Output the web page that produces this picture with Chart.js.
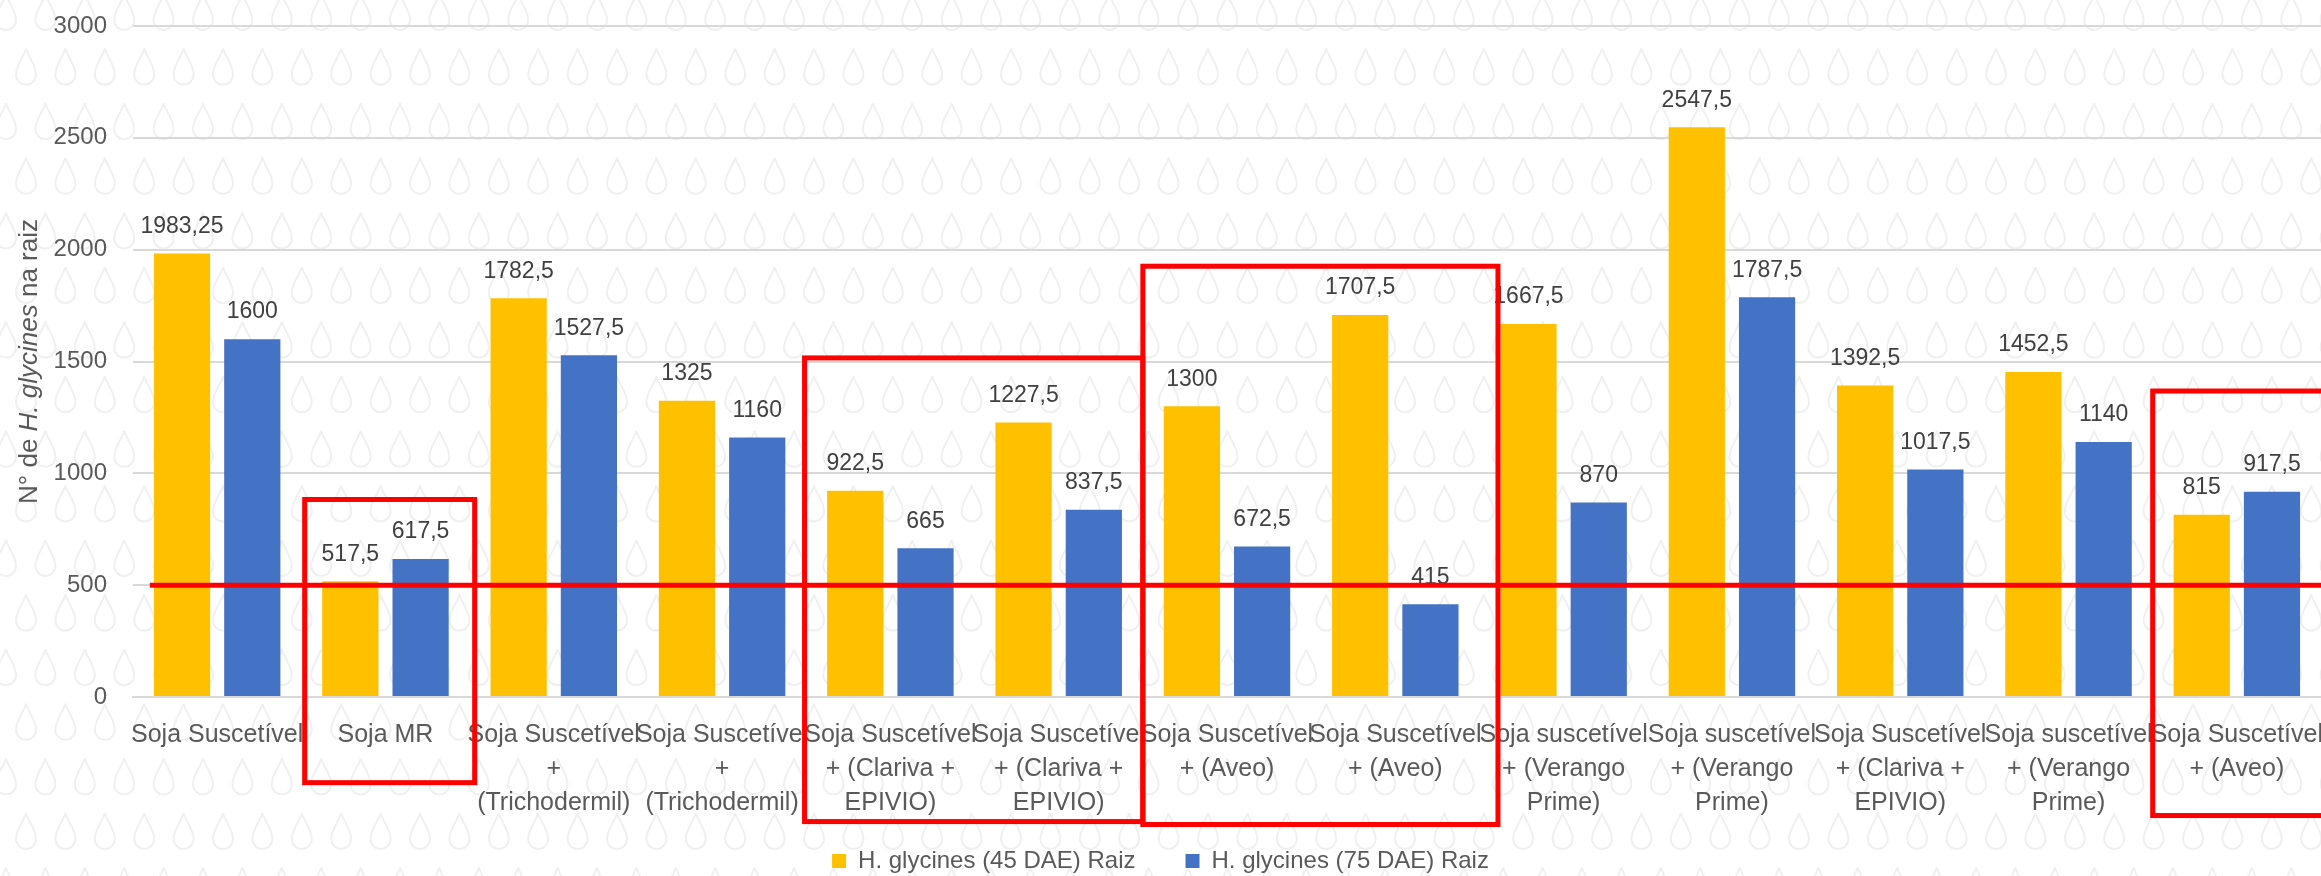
<!DOCTYPE html>
<html>
<head>
<meta charset="utf-8">
<script src="https://cdn.jsdelivr.net/npm/chart.js@4.4.1/dist/chart.umd.min.js"></script>
<style>
  html, body { margin: 0; padding: 0; background: #fff; }
</style>
</head>
<body>
<canvas id="myChart" width="2321" height="876"></canvas>
<script>
const categories = [
  ["Soja Suscetível"],
  ["Soja MR"],
  ["Soja Suscetível", "+", "(Trichodermil)"],
  ["Soja Suscetível", "+", "(Trichodermil)"],
  ["Soja Suscetível", "+ (Clariva +", "EPIVIO)"],
  ["Soja Suscetível", "+ (Clariva +", "EPIVIO)"],
  ["Soja Suscetível", "+ (Aveo)"],
  ["Soja Suscetível", "+ (Aveo)"],
  ["Soja suscetível", "+ (Verango", "Prime)"],
  ["Soja suscetível", "+ (Verango", "Prime)"],
  ["Soja Suscetível", "+ (Clariva +", "EPIVIO)"],
  ["Soja suscetível", "+ (Verango", "Prime)"],
  ["Soja Suscetível", "+ (Aveo)"],
];
const dae45 = [1983.25, 517.5, 1782.5, 1325, 922.5, 1227.5, 1300, 1707.5, 1667.5, 2547.5, 1392.5, 1452.5, 815];
const dae75 = [1600, 617.5, 1527.5, 1160, 665, 837.5, 672.5, 415, 870, 1787.5, 1017.5, 1140, 917.5];
const seriesNames = ["H. glycines (45 DAE) Raiz", "H. glycines (75 DAE) Raiz"];
const yMax = 3000;
const yStep = 500;
const limiar = 500;

// red highlight boxes, in category index / axis value units
const destaques = [
  { from: 0.52, to: 1.53, top: 883, bottom: -383 },
  { from: 3.49, to: 5.5, top: 1516, bottom: -557 },
  { from: 5.5, to: 7.61, top: 1926, bottom: -570 },
  { from: 11.5, to: 13, top: 1368, bottom: -530 },
];

const fontFamily = "'Liberation Sans', Arial, sans-serif";

function drawDrop(ctx, cx, cy) {
  const r = 10, top = cy - 19, cb = cy + 7;
  ctx.beginPath();
  ctx.moveTo(cx, top);
  ctx.bezierCurveTo(cx + 2, top + 8, cx + r, cb - r, cx + r, cb);
  ctx.arc(cx, cb, r, 0, Math.PI);
  ctx.bezierCurveTo(cx - r, cb - r, cx - 2, top + 8, cx, top);
  ctx.stroke();
}

const background = {
  id: "background",
  beforeDraw(chart) {
    const { ctx, width, height } = chart;
    ctx.save();
    ctx.fillStyle = "#ffffff";
    ctx.fillRect(0, 0, width, height);
    ctx.strokeStyle = "#f0f0f0";
    ctx.lineWidth = 2;
    for (let row = 0; row * 54.6 < height + 40; row++) {
      const cy = 13 + row * 54.6;
      const x0 = row % 2 === 0 ? 6 : 26;
      for (let cx = x0; cx < width + 20; cx += 39.4) drawDrop(ctx, cx, cy);
    }
    ctx.restore();
  },
};

const yTitle = {
  id: "yTitle",
  afterDraw(chart) {
    const { ctx, chartArea } = chart;
    const parts = [
      { text: "N° de ", italic: false },
      { text: "H. glycines", italic: true },
      { text: " na raiz", italic: false },
    ];
    const fontOf = (p) => (p.italic ? "italic " : "") + "26px " + fontFamily;
    ctx.save();
    ctx.translate(30, (chartArea.top + chartArea.bottom) / 2);
    ctx.rotate(-Math.PI / 2);
    ctx.fillStyle = "#595959";
    ctx.textBaseline = "middle";
    ctx.textAlign = "left";
    let total = 0;
    parts.forEach((p) => {
      ctx.font = fontOf(p);
      p.w = ctx.measureText(p.text).width;
      total += p.w;
    });
    let x = -total / 2;
    parts.forEach((p) => {
      ctx.font = fontOf(p);
      ctx.fillText(p.text, x, 0);
      x += p.w;
    });
    ctx.restore();
  },
};

const valueLabels = {
  id: "valueLabels",
  afterDatasetsDraw(chart) {
    const { ctx } = chart;
    ctx.save();
    ctx.font = "23px " + fontFamily;
    ctx.fillStyle = "#404040";
    ctx.textAlign = "center";
    ctx.textBaseline = "middle";
    chart.data.datasets.forEach((ds, i) => {
      chart.getDatasetMeta(i).data.forEach((bar, j) => {
        ctx.fillText(String(ds.data[j]).replace(".", ","), bar.x, bar.y - 27);
      });
    });
    ctx.restore();
  },
};

const redMarks = {
  id: "redMarks",
  afterDraw(chart) {
    const { ctx, scales: { x, y } } = chart;
    ctx.save();
    ctx.strokeStyle = "#ff0000";
    ctx.lineWidth = 5;
    destaques.forEach((b) => {
      const l = x.getPixelForValue(b.from);
      const r = x.getPixelForValue(b.to);
      const t = y.getPixelForValue(b.top);
      const btm = y.getPixelForValue(b.bottom);
      ctx.strokeRect(l, t, r - l, btm - t);
    });
    const ly = y.getPixelForValue(limiar);
    ctx.beginPath();
    ctx.moveTo(x.getPixelForValue(-0.4), ly);
    ctx.lineTo(chart.width, ly);
    ctx.stroke();
    ctx.restore();
  },
};

// nudge the legend down a bit and let the 3-line tick labels run past the axis box
const layoutTweaks = {
  id: "layoutTweaks",
  afterLayout(chart) {
    chart.legend.top += 7;
    chart.legend.bottom += 7;
    chart.scales.x.bottom = chart.height;
  },
};

function initChart() {
  const ctx = document.getElementById("myChart");

  return new Chart(ctx, {
    type: "bar",
    data: {
      labels: categories,
      datasets: [
        {
          label: seriesNames[0],
          data: dae45,
          backgroundColor: "#FFC000",
          categoryPercentage: 0.835,
          barPercentage: 0.8,
        },
        {
          label: seriesNames[1],
          data: dae75,
          backgroundColor: "#4472C4",
          categoryPercentage: 0.835,
          barPercentage: 0.8,
        },
      ],
    },
    options: {
      responsive: false,
      animation: false,
      devicePixelRatio: 1,
      layout: { padding: { top: 26, left: 0, right: 0, bottom: 0 } },
      plugins: {
        tooltip: { enabled: false },
        legend: {
          position: "bottom",
          labels: {
            boxWidth: 14,
            boxHeight: 14,
            padding: 50,
            color: "#595959",
            font: { family: fontFamily, size: 24 },
          },
        },
      },
      scales: {
        x: {
          grid: { display: false, drawTicks: false },
          border: { color: "#d9d9d9", width: 2 },
          ticks: {
            autoSkip: false,
            maxRotation: 0,
            minRotation: 0,
            padding: 21,
            color: "#595959",
            font: { family: fontFamily, size: 25, lineHeight: 1.36 },
          },
          afterFit(scale) {
            scale.height = 95;
            scale.paddingLeft = 0;
            scale.paddingRight = 0;
          },
        },
        y: {
          min: 0,
          max: yMax,
          grid: { color: "#d9d9d9", lineWidth: 2, drawTicks: false },
          border: { display: false },
          ticks: {
            stepSize: yStep,
            padding: 26,
            color: "#595959",
            font: { family: fontFamily, size: 24 },
            callback: (value) => String(value),
          },
          afterFit(scale) {
            scale.width = 133;
            scale.paddingTop = 0;
            scale.paddingBottom = 0;
          },
        },
      },
    },
    plugins: [background, valueLabels, yTitle, redMarks, layoutTweaks],
  });
}

initChart();
</script>
</body>
</html>
